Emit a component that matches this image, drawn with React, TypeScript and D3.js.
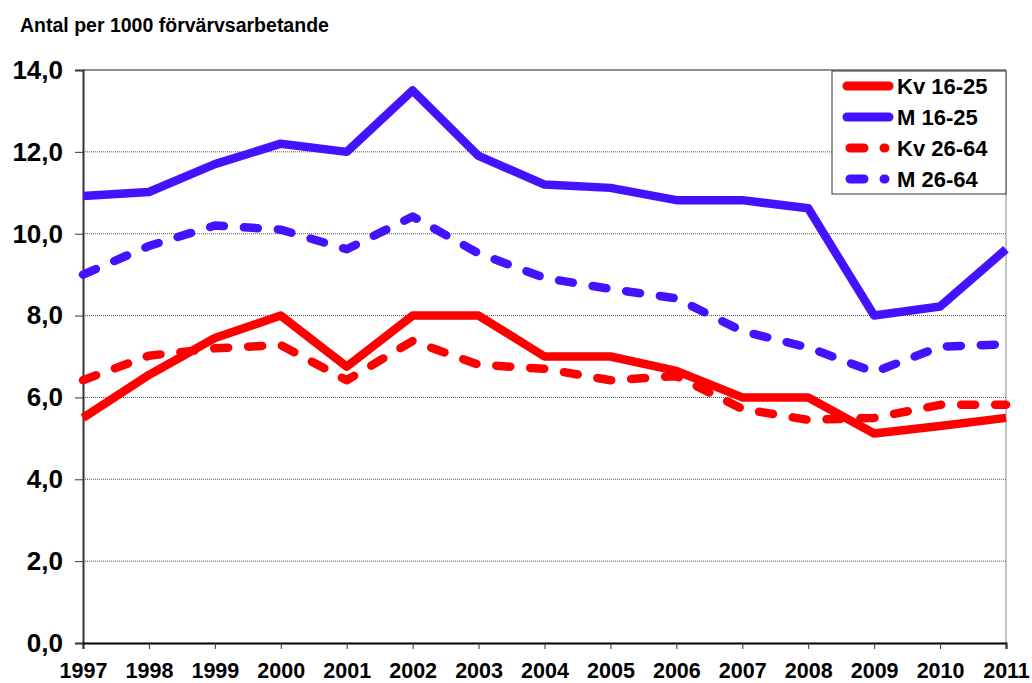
import React, { useEffect, useRef } from "react";
import * as d3 from "d3";

const years = [1997, 1998, 1999, 2000, 2001, 2002, 2003, 2004, 2005, 2006, 2007, 2008, 2009, 2010, 2011];
const kv1625 = [5.5, 6.55, 7.45, 8.0, 6.75, 8.0, 8.0, 7.0, 7.0, 6.65, 6.0, 6.0, 5.12, 5.3, 5.5];
const m1625 = [10.92, 11.02, 11.7, 12.2, 12.0, 13.5, 11.9, 11.2, 11.12, 10.82, 10.82, 10.62, 8.0, 8.22, 9.62];
const kv2664 = [6.42, 7.02, 7.2, 7.28, 6.42, 7.38, 6.8, 6.7, 6.42, 6.52, 5.72, 5.45, 5.5, 5.82, 5.82];
const m2664 = [9.0, 9.7, 10.2, 10.1, 9.62, 10.42, 9.52, 8.92, 8.65, 8.42, 7.62, 7.22, 6.62, 7.24, 7.3];
const yTicks = [0, 2, 4, 6, 8, 10, 12, 14];
const seriesNames = ["Kv 16-25", "M 16-25", "Kv 26-64", "M 26-64"];

const RED = "#ff0000";
const BLUE = "#4412ff";

function Chart() {
  const ref = useRef<SVGSVGElement>(null);

  useEffect(() => {
    const svg = d3.select(ref.current);
    svg.selectAll("*").remove();

    const left = 83, right = 1006, top = 70, bottom = 643;
    const x = d3.scaleLinear().domain([1997, 2011]).range([left, right]);
    const y = d3.scaleLinear().domain([0, 14]).range([bottom, top]);
    const font = "'Liberation Sans', Arial, sans-serif";

    // title
    svg.append("text")
      .attr("x", 20).attr("y", 32)
      .style("font-family", font).style("font-weight", "bold").style("font-size", "19.5px")
      .text("Antal per 1000 förvärvsarbetande");

    // gridlines
    svg.append("g").selectAll("line")
      .data(yTicks.filter(t => t > 0 && t < 14))
      .join("line")
      .attr("x1", left).attr("x2", right)
      .attr("y1", d => y(d)).attr("y2", d => y(d))
      .attr("stroke", "#555").attr("stroke-width", 1).attr("stroke-dasharray", "1,1");

    svg.append("line")
      .attr("x1", left).attr("x2", right).attr("y1", y(14)).attr("y2", y(14))
      .attr("stroke", "#222").attr("stroke-width", 1);
    svg.append("line")
      .attr("x1", right).attr("x2", right).attr("y1", y(14)).attr("y2", y(0))
      .attr("stroke", "#888").attr("stroke-width", 1);

    // y axis
    const yAxis = svg.append("g")
      .attr("transform", `translate(${left},0)`)
      .call(d3.axisLeft(y).tickValues(yTicks).tickSize(8).tickPadding(12)
        .tickFormat(d => d3.format(".1f")(d as number).replace(".", ",")));
    yAxis.select(".domain").attr("stroke", "#333").attr("stroke-width", 2);
    yAxis.selectAll(".tick line").attr("stroke", "#333");
    yAxis.selectAll("text")
      .style("font-family", font).style("font-weight", "bold").style("font-size", "26px")
      .attr("fill", "#000");

    // x axis
    const xAxis = svg.append("g")
      .attr("transform", `translate(0,${bottom})`)
      .call(d3.axisBottom(x).tickValues(years).tickSize(6).tickPadding(14).tickFormat(d3.format("d")));
    xAxis.select(".domain").attr("stroke", "#000").attr("stroke-width", 2);
    xAxis.selectAll(".tick line").attr("stroke", "#333");
    xAxis.selectAll("text")
      .style("font-family", font).style("font-weight", "bold").style("font-size", "21.5px")
      .attr("fill", "#000");

    const series = [
      { name: seriesNames[0], values: kv1625, color: RED, dash: null },
      { name: seriesNames[1], values: m1625, color: BLUE, dash: null },
      { name: seriesNames[2], values: kv2664, color: RED, dash: "14,20" },
      { name: seriesNames[3], values: m2664, color: BLUE, dash: "14,20" },
    ];

    const line = d3.line<number>()
      .x((_, i) => x(years[i]))
      .y(d => y(d));

    const drawOrder = [3, 2, 1, 0];
    drawOrder.forEach(i => {
      const s = series[i];
      svg.append("path")
        .datum(s.values)
        .attr("d", line)
        .attr("fill", "none")
        .attr("stroke", s.color)
        .attr("stroke-width", 8.5)
        .attr("stroke-linejoin", "round")
        .attr("stroke-linecap", s.dash ? "round" : "butt")
        .attr("stroke-dasharray", s.dash);
    });

    // legend
    const lg = svg.append("g");
    lg.append("rect")
      .attr("x", 832).attr("y", 71).attr("width", 174).attr("height", 123)
      .attr("fill", "#fff").attr("stroke", "#333").attr("stroke-width", 1);
    series.forEach((s, i) => {
      const cy = 86 + i * 31;
      lg.append("line")
        .attr("x1", s.dash ? 850 : 847).attr("x2", s.dash ? 885 : 889)
        .attr("y1", cy).attr("y2", cy)
        .attr("stroke", s.color).attr("stroke-width", 9)
        .attr("stroke-linecap", "round")
        .attr("stroke-dasharray", s.dash);
      lg.append("text")
        .attr("x", 897).attr("y", cy + 8)
        .style("font-family", font).style("font-weight", "bold").style("font-size", "22px")
        .text(s.name);
    });
  }, []);

  return <svg ref={ref} width={1032} height={683} style={{ position: "absolute", left: 0, top: 0, background: "#fff" }} />;
}

export default function App() {
  return <Chart />;
}
